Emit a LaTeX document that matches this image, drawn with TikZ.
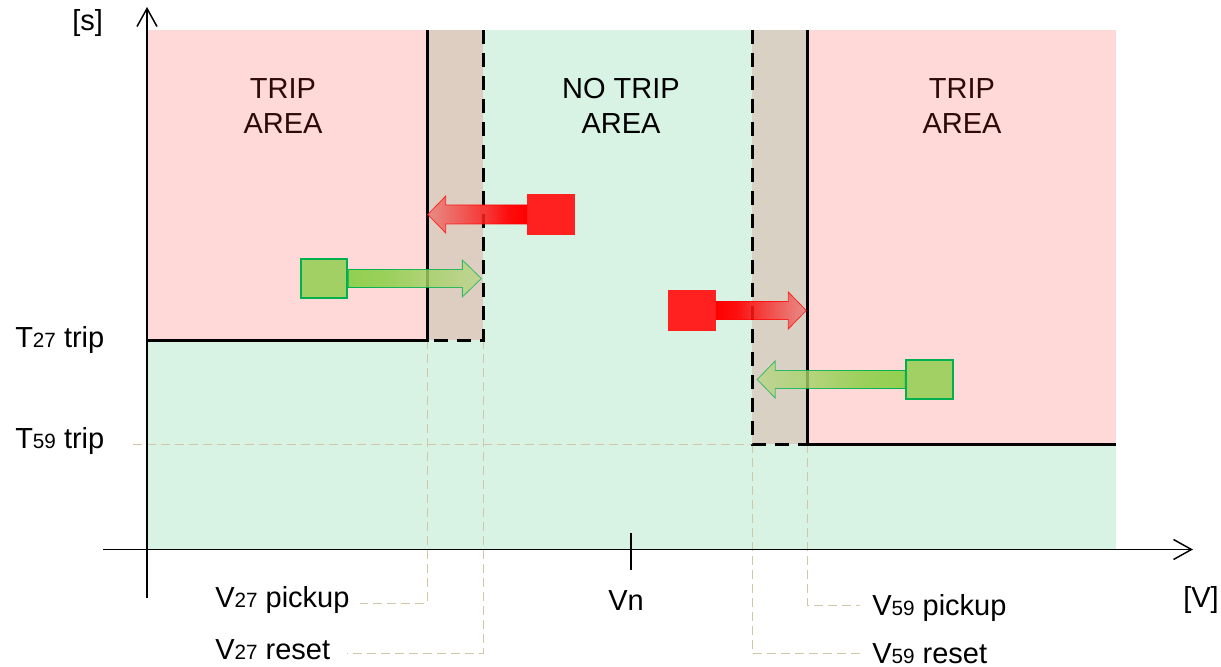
\documentclass[tikz,border=0pt]{standalone}
\usepackage{fontspec}
\setmainfont{Liberation Sans}
\usetikzlibrary{arrows.meta,fadings}

% area and line colours
\definecolor{notripfill}{RGB}{216,242,228}
\definecolor{tripfill}{RGB}{255,216,216}
\definecolor{bandleft}{RGB}{222,206,194}
\definecolor{bandright}{RGB}{218,209,197}
\definecolor{guidetan}{RGB}{207,199,165}
\definecolor{tripink}{RGB}{45,10,10}
\definecolor{boxred}{RGB}{255,32,32}
\definecolor{redlight}{RGB}{237,110,108}
\definecolor{greenstrong}{RGB}{146,208,80}
\definecolor{greenlight}{RGB}{182,214,128}
\definecolor{boxgreen}{RGB}{162,208,100}
\definecolor{edgegreen}{RGB}{0,176,80}

% colour ramps of the block arrows (25bp..75bp spans the arrow)
\pgfdeclarehorizontalshading{redtoleft}{100bp}{color(0bp)=(redlight); color(25bp)=(redlight); color(65bp)=(red); color(100bp)=(red)}
\pgfdeclarehorizontalshading{redtoright}{100bp}{color(0bp)=(red); color(37bp)=(red); color(75bp)=(redlight); color(100bp)=(redlight)}
\pgfdeclarehorizontalshading{greentoright}{100bp}{color(0bp)=(greenstrong); color(40bp)=(greenstrong); color(75bp)=(greenlight); color(100bp)=(greenlight)}
\pgfdeclarehorizontalshading{greentoleft}{100bp}{color(0bp)=(greenlight); color(25bp)=(greenlight); color(60bp)=(greenstrong); color(100bp)=(greenstrong)}
\tikzfading[name=fadetoleft, left color=transparent!30, right color=transparent!0]
\tikzfading[name=fadetoright, left color=transparent!0, right color=transparent!30]

\newcommand\subnum[1]{{\fontsize{15.5}{18}\selectfont #1}}

\begin{document}
\begin{tikzpicture}[x=0.75pt, y=-0.75pt,
  txt/.style={font=\fontsize{21.75}{26.25}\selectfont, inner sep=0pt},
  lbl/.style={txt, anchor=base west},
  areatext/.style={txt, align=center},
  redbox/.style={fill=boxred, inner sep=0pt, minimum width=36pt, minimum height=30.75pt},
  greenbox/.style={fill=boxgreen, draw=edgegreen, line width=1.5pt, inner sep=0pt, minimum width=35pt, minimum height=29.5pt},
  axisline/.style={line width=1.1pt, -{Straight Barb[length=13.5pt,width=15pt]}},
  solidedge/.style={line width=2.25pt},
  dashedge/.style={line width=2.25pt, dash pattern=on 10.5pt off 6.75pt},
  guide/.style={draw=guidetan, line width=0.75pt, dash pattern=on 6.75pt off 3.75pt},
  redarrow/.style={draw=red, line width=0.6pt},
  greenarrow/.style={draw=edgegreen, line width=0.6pt}]
\useasboundingbox (0,0) rectangle (1221,667);

% operating areas
\fill[notripfill] (147,30) rectangle (1116,549);
\fill[tripfill] (147,30) rectangle (427,340);
\fill[bandleft] (427,30) rectangle (483,340);
\fill[bandright] (752,30) rectangle (807,444);
\fill[tripfill] (807,30) rectangle (1116,444);

% corners of the characteristic
\coordinate (p27) at (427,340);
\coordinate (r27) at (483,340);
\coordinate (r59) at (752,444);
\coordinate (p59) at (807,444);
\coordinate (t59g) at (133,444);

% labels
\node[lbl] (s) at (72,31) {[s]};
\node[lbl] (t27) at (15,347) {T\subnum{27} trip};
\node[lbl] (t59) at (15,448) {T\subnum{59} trip};
\node[lbl] (v27p) at (215,607) {V\subnum{27} pickup};
\node[lbl] (v27r) at (215,659) {V\subnum{27} reset};
\node[txt, anchor=base] (vn) at (626,610) {Vn};
\node[lbl] (v59p) at (872,615) {V\subnum{59} pickup};
\node[lbl] (v59r) at (872,663) {V\subnum{59} reset};
\node[lbl] (vunit) at (1183,607) {[V]};

% guide lines from the corners to the labels
\draw[guide] (t59g) -- (r59);
\draw[guide] (p27) |- ([shift={(10,-4)}]v27p.base east);
\draw[guide] (r27) |- ([shift={(17,-6)}]v27r.base east);
\draw[guide] (r59) |- ([shift={(-12,-10)}]v59r.base west);
\draw[guide] (p59) |- ([shift={(-12,-10)}]v59p.base west);

% characteristic edges
\draw[solidedge] (147,340) -- (p27) -- (427,30);
\draw[dashedge] (483,30) -- (r27) -- (p27);
\draw[dashedge] (752,30) -- (r59) -- (p59);
\draw[solidedge] (807,30) -- (p59) -- (1116,444);

% axes
\draw[axisline] (147,598) -- (147,7);
\draw[axisline] (103,549.5) -- (1193,549.5);
\draw[line width=1.1pt] (631,533) -- (631,570);

% area titles
\node[areatext, text=tripink] (trip1) at (283,106) {TRIP\\AREA};
\node[areatext] (notrip) at (621,106) {NO TRIP\\AREA};
\node[areatext, text=tripink] (trip2) at (962,106) {TRIP\\AREA};

% block arrows
\node[redbox] (r1) at (551,214.5) {};
\shade[shading=redtoleft, path fading=fadetoleft, redarrow]
  (r1.west) ++(0,-9.5) -- ++(-81,0) -- ++(0,-9) -- ++(-18,18.5) -- ++(18,18.5) -- ++(0,-9) -- ++(81,0) -- cycle;

\node[greenbox] (g1) at (324,278.5) {};
\shade[shading=greentoright, path fading=fadetoright, greenarrow]
  (g1.east) ++(0,-9) -- ++(114,0) -- ++(0,-9.5) -- ++(19,18.5) -- ++(-19,18.5) -- ++(0,-9.5) -- ++(-114,0) -- cycle;

\node[redbox] (r2) at (692,310.5) {};
\shade[shading=redtoright, path fading=fadetoright, redarrow]
  (r2.east) ++(0,-9) -- ++(72,0) -- ++(0,-9.5) -- ++(18,18.5) -- ++(-18,18.5) -- ++(0,-9.5) -- ++(-72,0) -- cycle;

\node[greenbox] (g2) at (929.5,379.5) {};
\shade[shading=greentoleft, path fading=fadetoleft, greenarrow]
  (g2.west) ++(0,-9) -- ++(-130,0) -- ++(0,-9.5) -- ++(-18,18.5) -- ++(18,18.5) -- ++(0,-9.5) -- ++(130,0) -- cycle;
\end{tikzpicture}
\end{document}
